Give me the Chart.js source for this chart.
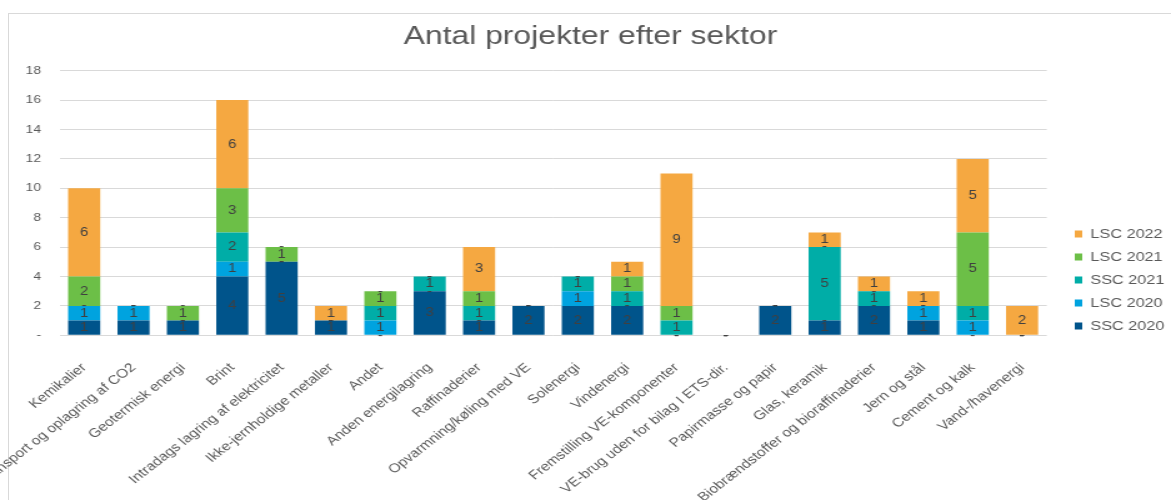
<!DOCTYPE html>
<html lang="da">
<head>
  <meta charset="UTF-8">
  <title>Antal projekter efter sektor</title>
  <script src="https://cdn.jsdelivr.net/npm/chart.js"></script>
  <style>
    body { margin: 0; background: #fff; overflow: hidden; }
    #ramme { position: absolute; left: 8px; top: 13px; width: 1200px; height: 600px; border: 1px solid #d9d9d9; }
    /* originalen er strakt vandret, saa lærredet strækkes ogsaa */
    #grafik { position: absolute; left: 0; top: 0; transform: scaleX(1.2497); transform-origin: 0 0; }
  </style>
</head>
<body>
  <div id="ramme"></div>
  <canvas id="grafik" width="937" height="500"></canvas>

  <script>
    const sektorer = [
      'Kemikalier', 'Transport og oplagring af CO2', 'Geotermisk energi', 'Brint',
      'Intradags lagring af elektricitet', 'Ikke-jernholdige metaller', 'Andet',
      'Anden energilagring', 'Raffinaderier', 'Opvarmning/køling med VE', 'Solenergi',
      'Vindenergi', 'Fremstilling VE-komponenter', 'VE-brug uden for bilag I ETS-dir.',
      'Papirmasse og papir', 'Glas, keramik', 'Biobrændstoffer og bioraffinaderier',
      'Jern og stål', 'Cement og kalk', 'Vand-/havenergi'
    ];
    const ssc2020 = [1, 1, 1, 4, 5, 1, 0, 3, 1, 2, 2, 2, 0, 0, 2, 1, 2, 1, 0, 0];
    const lsc2020 = [1, 1, 0, 1, 0, 0, 1, 0, 0, 0, 1, 0, 0, 0, 0, 0, 0, 1, 1, 0];
    const ssc2021 = [0, 0, 0, 2, 0, 0, 1, 1, 1, 0, 1, 1, 1, 0, 0, 5, 1, 0, 1, 0];
    const lsc2021 = [2, 0, 1, 3, 1, 0, 1, 0, 1, 0, 0, 1, 1, 0, 0, 0, 0, 0, 5, 0];
    const lsc2022 = [6, 0, 0, 6, 0, 1, 0, 0, 3, 0, 0, 1, 9, 0, 0, 1, 1, 1, 5, 2];
    const yTicks = { min: 0, max: 18, step: 2 };

    Chart.defaults.font.family = '"Liberation Sans", Arial, sans-serif';
    Chart.defaults.color = '#595959';

    // tal midt i hver del af søjlen, "-" for nul
    const etiketter = {
      id: 'etiketter',
      afterDatasetsDraw(chart) {
        const ctx = chart.ctx;
        ctx.save();
        ctx.font = '12px "Liberation Sans", Arial, sans-serif';
        ctx.fillStyle = '#404040';
        ctx.textAlign = 'center';
        ctx.textBaseline = 'middle';
        chart.data.datasets.forEach((ds, i) => {
          chart.getDatasetMeta(i).data.forEach((bar, j) => {
            const v = ds.data[j];
            ctx.fillText(v === 0 ? '-' : String(v), bar.x, (bar.y + bar.base) / 2);
          });
        });
        ctx.restore();
      }
    };

    // flyt forklaringen ned til højre som i originalen
    const flytForklaring = {
      id: 'flytForklaring',
      afterLayout(chart) {
        const l = chart.legend;
        const w = l.width, h = l.height;
        l.left = 850; l.right = 850 + w;
        l.top = 217.5; l.bottom = 217.5 + h;
      }
    };

    function serie(navn, data, farve) {
      return { label: navn, data: data, backgroundColor: farve, borderWidth: 0, barPercentage: 0.65, categoryPercentage: 1 };
    }

    new Chart(document.getElementById('grafik'), {
      type: 'bar',
      data: {
        labels: sektorer,
        datasets: [
          serie('SSC 2020', ssc2020, '#00548B'),
          serie('LSC 2020', lsc2020, '#00A3DF'),
          serie('SSC 2021', ssc2021, '#00ADA7'),
          serie('LSC 2021', lsc2021, '#6CBF47'),
          serie('LSC 2022', lsc2022, '#F5A841')
        ]
      },
      options: {
        responsive: false,
        animation: false,
        events: [],
        layout: { padding: { left: 8 } },
        plugins: {
          title: {
            display: true,
            text: 'Antal projekter efter sektor',
            color: '#595959',
            font: { size: 25.5, weight: 'normal' },
            padding: { top: 21.7, bottom: 18.4 }
          },
          legend: {
            position: 'right',
            align: 'start',
            fullSize: false,
            reverse: true,
            labels: { boxWidth: 6, boxHeight: 7, padding: 10, color: '#595959', font: { size: 13 } }
          },
          tooltip: { enabled: false }
        },
        scales: {
          x: {
            stacked: true,
            grid: { display: false },
            border: { display: false },
            ticks: { autoSkip: false, minRotation: 44, maxRotation: 44, padding: 17, font: { size: 12.5 } },
            afterFit(scale) { scale.height = 164.7; scale.paddingLeft = 0; scale.paddingRight = 99.4; }
          },
          y: {
            stacked: true,
            min: yTicks.min,
            max: yTicks.max,
            grid: { color: '#d9d9d9', drawTicks: false },
            border: { display: false },
            ticks: {
              stepSize: yTicks.step,
              padding: 14.8,
              font: { size: 11 },
              callback: v => v === 0 ? '-' : v
            },
            afterFit(scale) { scale.width = 39.6; }
          }
        }
      },
      plugins: [etiketter, flytForklaring]
    });
  </script>
</body>
</html>
